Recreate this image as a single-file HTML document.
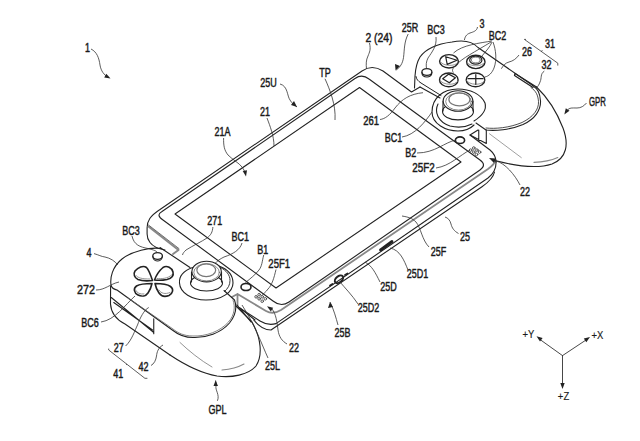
<!DOCTYPE html>
<html><head><meta charset="utf-8"><style>
html,body{margin:0;padding:0;background:#fff;}
svg{display:block;}
text{font-family:"Liberation Sans",sans-serif;font-size:12px;fill:#1a1a1a;stroke:#1a1a1a;stroke-width:0.45px;}
</style></head><body>
<svg width="640" height="441" viewBox="0 0 640 441">
<rect width="640" height="441" fill="#fff"/>
<g fill="none" stroke="#222" stroke-width="1.1" stroke-linejoin="round" stroke-linecap="round">
<!-- SCREEN -->
<path d="M359.5,87.5 L461,162 L276,288 L175,214 Z"/>
<!-- BODY outer top-left edge + apex -->
<path d="M165,250 C159,249 153,246.5 150,242.5 C148,240 147.1,237 147.1,234 L147.1,228 C147.1,221 150,216 160,209.5 L362,71 Q372,64 383,71 L411.5,92 L420,87"/>
<!-- top face outline P2 -->
<path d="M163,220 Q155.5,215 162,211.5 L355,78.5 Q362,73.5 369,79 L480,160 Q487,165 480,170 L289,302 Q281,307.5 273,301 Z"/>
<!-- front gray bevel -->
<path d="M232,297 L237.5,294 L237.5,306 M237.5,294 L266,311 Q273,315 281,310 L488,169 Q496,163 495,160" stroke="#888" stroke-width="1.8"/>
<!-- left corner lower-left lines -->
<path d="M148.5,226.5 L178.5,250 L173,254" stroke="#888" stroke-width="2"/>
<path d="M148.5,225 L179,248.6" stroke="#333" stroke-width="0.7"/>
<!-- front side lines -->
<path d="M238.75,307.5 L260,321 Q268,326 276,323.6 L488,178 Q497,171 496,160"/>
<path d="M253.75,320 Q262,330 271,330 L482,186.8 Q493,179 494.5,172"/>
<!-- right corner outer -->
<path d="M470,135 L490,150 Q496,155 496,162"/>
<!-- right controller base notch -->
<path d="M470,135 L478,130 M478.75,130 L478.75,141 M486.3,129.8 L486.3,143.5 M470,135 L486.3,143.5"/>
<!-- RIGHT CONTROLLER top surface -->
<path d="M414.5,88 L415,76 C415.5,68 417,62 420,57 C425,50 436,44 452,42 C462,40 472,41 478,47.5 L532,85 C538,89 540,93 540.5,101 C541,110 535,119 523,124.5 C510,130 495,131 486,130 L476,123"/>
<path d="M531,87.5 C536,91 538,95 538.5,101.5 C539,109 533.5,117 522,122.5 C509,128 495,129 486,128" stroke-width="0.8"/>
<path d="M416,76.5 C416.5,79.5 418,81 421,83 L441,95.5" stroke-width="1"/>
<path d="M420,87 L440,98"/>
<!-- slot 32 -->
<path d="M515,73.5 L536.5,87 M514.5,75.5 L533,87.5 M515,73.5 L514.5,75.5" stroke-width="1.2"/>
<!-- GPR shell -->
<path d="M536.5,87 C546,96 556,110 563,128 C569,144 567,158 552,164 C540,168 520,167 497,161"/>
<path d="M534,162.4 Q548,162 557.8,157.6" stroke="#888"/>
<path d="M489.5,133.8 L521.3,157.6" stroke="#888" stroke-width="0.8"/>
<!-- buttons right -->
<g stroke-width="1.4">
<ellipse cx="449" cy="61.3" rx="9.4" ry="6.7"/>
<ellipse cx="475.8" cy="61.9" rx="9.2" ry="6.7"/>
<ellipse cx="448.8" cy="79.9" rx="9.3" ry="6.9"/>
<ellipse cx="475.5" cy="79.9" rx="9.3" ry="6.9"/>
</g>
<g stroke="#777" stroke-width="0.8">
<path d="M440.5,62 C443,66 455,67 458,62.5 M467,62.5 C470,67 482,67 484.5,62.5 M440,80.5 C443,85 455,86 458,81 M466.5,80.5 C469,85 481,86 484.5,81"/>
</g>
<path d="M445.7,56.7 L457,60.3 L447.2,64.4 Z" stroke-width="1.2"/>
<ellipse cx="475.8" cy="60.2" rx="6.1" ry="4" stroke-width="1.2"/>
<ellipse cx="475.8" cy="60" rx="4.4" ry="2.8" stroke="#666" stroke-width="0.8"/>
<path d="M442.7,78.7 L448.8,74.1 L455.4,77.7 L449.3,82.8 Z" stroke-width="1.2"/>
<path d="M475.8,74.6 L475.8,84.3 M468,78.7 L483,78.7" stroke-width="1.2"/>
<ellipse cx="426.9" cy="72" rx="5" ry="3.4" stroke-width="1.3"/>
<path d="M421.9,72.5 C422,76 425,77 427,77 C429,77 432,76 431.9,72.5"/>
<!-- right joystick -->
<path d="M474,121 C482,116 487,110 485,103 C481,94 470,89 458,89 C443,89 432,98 432,112 C432,124 446,131 458,131 C464,131 470,129 474,125"/>
<path d="M438,104 C434,112 438,122 450,126 C458,128 466,127 472,124"/>
<ellipse cx="458" cy="111.5" rx="15.5" ry="8.4"/>
<path d="M443,101 L443,111 M473,101 L473,111"/>
<ellipse cx="458" cy="101" rx="14.8" ry="10.2" fill="#fff"/>
<ellipse cx="458.5" cy="101.5" rx="12.8" ry="8.6" stroke="#555" stroke-width="0.7"/>
<ellipse cx="459.4" cy="99.4" rx="10.5" ry="6.5" stroke="#777" stroke-width="1.2"/>
<!-- B2 button + grille -->
<ellipse cx="460" cy="140.2" rx="4.6" ry="3.3" stroke-width="1.6"/>
<g stroke-width="0.9" stroke="#444"><circle cx="473.8" cy="148" r="1.3"/><circle cx="476.9" cy="150.1" r="1.3"/><circle cx="479.6" cy="152.1" r="1.3"/><circle cx="470.7" cy="150.1" r="1.3"/><circle cx="473.8" cy="152.1" r="1.3"/><circle cx="476.5" cy="154.5" r="1.3"/></g>
<!-- LEFT CONTROLLER top surface -->
<path d="M161,248.5 C150,247 132,251 122,259 C112,267 110,278 111,285 C112,289 114,289 117,290 L173,330.5 C178,334.5 184,337.5 193,337.5 C206,338 221,333 229.5,323 C236,315 237,307 234.5,300 L224,290.5"/>
<path d="M128,298 L173,329 C178,333 184,336 193,336 C206,336.5 220,331.5 228.5,322 C234.5,315 235.5,307 233,300" stroke="#666" stroke-width="0.8"/>
<path d="M160,247.5 L190,267.5"/>
<!-- left controller side -->
<path d="M110.6,286 L110.5,304 C111,312 115,319 125,324 L170,355"/>
<path d="M111.25,297.5 L153.75,332.5 M113.75,302.5 L152.5,330 M153.75,318.75 L153.75,333.75"/>
<!-- GPL shell -->
<path d="M170,355 C185,365 200,373 217,376 C232,378 248,375 256,366 C263,355 261,338 252,322 L236,306"/>
<path d="M180,342.5 C189,351 200,360 212,367" stroke="#888" stroke-width="0.9"/>
<path d="M222,370 Q235,369 244,364" stroke="#888"/>
<path d="M237,305 L251,322 M240,308 L255,320"/>
<!-- d-pad -->
<g>
<g stroke-width="1.6">
<path d="M152.5,280.5 C151,276 149,270 146.5,267.5 C143,265 138,267.5 135,271 C133,274 134.5,278 138,279.5 C142,281 148,281 152.5,280.5 Z"/>
<path d="M154.5,280 C156,276 160,270 163,267.5 C167,265 172,268 173,272 C174,276 171,278.5 167,279.5 C162,280.5 158,280.5 154.5,280 Z"/>
<path d="M152,283.5 C147,283.5 140,284 136.5,286 C133,288.5 134,293 138,295 C142,297 146,296 148,293 C150,290 151.5,286 152,283.5 Z"/>
<path d="M155,283.5 C160,283.5 167,284 170.5,286.5 C174,289 173,293.5 169,295.5 C165,297 161,296 159,293 C157,290 155.5,286 155,283.5 Z"/>
</g>
<path d="M136,275.5 C138,278 142,279 150,279 M157,278.5 C162,279 168,278.5 171.5,275 M135.5,290 C137,293 140,294.5 144,294 M159,290 C161,293.5 165,294.5 170,292.5" stroke="#777" stroke-width="0.8"/>
</g>
<ellipse cx="157.6" cy="256" rx="4.8" ry="3.4" stroke-width="1.3"/>
<path d="M152.8,256.5 C153,260 156,261 157.6,261 C159,261 162,260 162.4,256.5"/>
<!-- left joystick -->
<path d="M192.5,267.5 C183,271 179,277 179.5,283 C180,293 192,300 206,300 C222,300 233,292 233,283 C233,275 227,269 219,266"/>
<path d="M220.5,267.5 C226.5,270.5 230,275 230,280.5 C230,285 228,288.5 224.5,291.5" stroke-width="0.9"/>
<ellipse cx="206.5" cy="283" rx="16" ry="8"/>
<path d="M191.5,272 L191.5,282 M221.5,272 L221.5,282"/>
<ellipse cx="206.6" cy="271.6" rx="14.7" ry="10.3" fill="#fff"/>
<ellipse cx="206.6" cy="272.3" rx="12.8" ry="8.6" stroke="#555" stroke-width="0.7"/>
<ellipse cx="206.25" cy="270.3" rx="9.4" ry="6.4" stroke="#777" stroke-width="1.2"/>
<!-- B1 + grille -->
<ellipse cx="246" cy="287" rx="5" ry="3.5" stroke-width="1.6"/>
<g stroke-width="0.9" stroke="#444"><circle cx="259.1" cy="294.7" r="1.3"/><circle cx="262.2" cy="296.8" r="1.3"/><circle cx="265.3" cy="298.8" r="1.3"/><circle cx="256.1" cy="296.8" r="1.3"/><circle cx="259.1" cy="298.8" r="1.3"/><circle cx="262.2" cy="301.2" r="1.3"/></g>
<!-- front slots -->
<path d="M380.5,250 L392,241.5" stroke-width="2.8"/>
<ellipse cx="339" cy="279.3" rx="4.8" ry="3" transform="rotate(-40 339 279.3)" stroke-width="2"/>
<path d="M330,285.5 L332.5,284 M345,275 L347.5,273.5" stroke-width="1.8"/>
<!-- AXES -->
<path d="M562.5,355.6 L540,339.5 M562.5,355.6 L586,340 M562.5,355.6 L562.5,384" stroke="#333" stroke-width="0.9"/>
</g>
<g fill="#222">
<path d="M536.5,336.3 L542.6,338.1 L540.0,341.6 Z"/>
<path d="M590.0,337.0 L586.3,342.2 L583.8,338.5 Z"/>
<path d="M562.5,389.0 L560.3,383.0 L564.7,383.0 Z"/>
</g>
<!-- leaders -->
<g fill="none" stroke="#333" stroke-width="0.8">
<path d="M91,49 C97,52 99,58 100,65 C101,71 104,75 108,77"/>
<path d="M280,84 C288,86 287,96 290,100 C292,104 295,105 297,107"/>
<path d="M267,118 C270,126 274,136 274,146"/>
<path d="M223.6,138 C223.5,145 224,150 228,155 C233,160 239,163 242,167 C244,170 245,172 245.5,172"/>
<path d="M325,78.75 C330,90 336,105 335,120"/>
<path d="M369.5,43 C371,50 369.5,52 368,56 C366,60 366,64 366.5,69"/>
<path d="M408.2,34 C404,42 404.5,50 403.5,57.6 C402.5,64 400,67 396.5,70"/>
<path d="M436,37 C437,46 432,52 428,58 C426,62 426,65 426.5,68.5"/>
<path d="M477.5,27 C477,31 473,32 470,33 C466,34.5 465,37 464.4,40"/>
<path d="M492,41 C480,43 462,45 453.5,53 M491,42 C475,52 462,58 455,66 C452,69 452,71 453.5,72.5 M492,42 C490,47 486,51 482,56 M493,42 C496,50 497,60 494,68 C492,73 489,76 485,77"/>
<path d="M526,39.4 L524.4,39.4 L557.8,63.2 L557.8,65.6 M541,51.5 L542.5,50.5"/>
<path d="M519,55 C516,59 513,61 509,62 C505,63 503,66 501.4,68.7"/>
<path d="M544.3,71.1 C540,74 542,78 540,82 C539,85 538,86 536.5,88"/>
<path d="M586.5,103 C584,106 581,108 577,108 C572,108 569.5,107.5 567.5,110"/>
<path d="M380,119.5 C385,119 390,115 395,108 C402,99 410,94 423,92.7"/>
<path d="M402,137 C415,135 425,122 432,112"/>
<path d="M417,153 C435,153 445,142 456,140"/>
<path d="M436,168 C450,166 460,155 470,150"/>
<path d="M520,185 C515,175 505,163 496,161"/>
<path d="M132,236 C134,245 140,247 148,248.5 C154,250 157,251 157.5,253"/>
<path d="M212.9,227 C212.5,232 211,235 207,238 C201,242 194,245 186,250 C184,252 183,253 182.5,255"/>
<path d="M242,243 C240,250 233,254 224,257 C220,259 217,261 215.5,263"/>
<path d="M94,253.6 C99,255 101,256.5 105,257 C110,258 115,261 117.8,265"/>
<path d="M263.7,255 C262,262 262,266 259,270 C256,274 250,279 245.5,282.5"/>
<path d="M276,269.5 C274,278 272,285 268,289 C266,292 263,294 261.6,295.7"/>
<path d="M96,290 C105,290 110,284 119,282"/>
<path d="M101,322 C115,320 125,305 135,296"/>
<path d="M125.6,346 C132,340 135,330 137.5,325 C140,318 144,310 148.75,307.5"/>
<path d="M287,344 C282,341 279,337 278,330 C277,322 276,314 272,309"/>
<path d="M151,365.5 C154,364 156,360 156.5,356 C157,352 158,348 163,345"/>
<path d="M108.7,348.6 L108.7,350 L144.9,378.3 L147.4,378.3 M126,364.8 L127,364"/>
<path d="M268,358 C262,345 255,325 242,305"/>
<path d="M217.4,400.8 C220,395 215,390 216,386 C217,383 215.6,382 215.6,380.4"/>
<path d="M458.5,233.5 C454,231 452,228 451,224 C450,220 448,218 445,217"/>
<path d="M429,247 C422,240 421,228 416,222 C412,218 408,217 402,216"/>
<path d="M408,270 C404,260 400,250 390,248"/>
<path d="M380,282 C375,272 372,266 365,262"/>
<path d="M358,304 C352,295 345,288 340,282"/>
<path d="M338,325 C336,318 334,310 330,302"/>
</g>
<g fill="#222">
<path d="M110.5,78.5 L104.2,77.6 L106.3,73.7 Z"/>
<path d="M297,107 L291,105 L294,101 Z"/>
<path d="M246.0,176.5 L242.7,171.0 L247.0,170.2 Z"/>
<path d="M395.6,70.6 L395,64 L400,66 Z"/>
<path d="M564.3,114.5 L565.8,108.3 L569.5,110.7 Z"/>
<path d="M489,158 L496,158.5 L494,163 Z"/>
<path d="M267.0,306.3 L273.2,307.7 L270.8,311.4 Z"/>
<path d="M215.6,380.4 L213.5,386 L218,386 Z"/>
<path d="M330,302 L328,308 L333,307 Z"/>
</g>
<!-- LABELS -->
<g>
<text transform="translate(87.5,52) scale(.75,1)" text-anchor="middle">1</text>
<text transform="translate(268.5,87) scale(.75,1)" text-anchor="middle">25U</text>
<text transform="translate(265,115.5) scale(.75,1)" text-anchor="middle">21</text>
<text transform="translate(222.5,136) scale(.75,1)" text-anchor="middle">21A</text>
<text transform="translate(325,77) scale(.75,1)" text-anchor="middle">TP</text>
<text transform="translate(378.9,41.7) scale(.75,1)" text-anchor="middle" textLength="36" lengthAdjust="spacingAndGlyphs">2 (24)</text>
<text transform="translate(410,32) scale(.75,1)" text-anchor="middle">25R</text>
<text transform="translate(436,33.5) scale(.75,1)" text-anchor="middle">BC3</text>
<text transform="translate(482,28) scale(.75,1)" text-anchor="middle">3</text>
<text transform="translate(497.5,39.5) scale(.75,1)" text-anchor="middle">BC2</text>
<text transform="translate(550,48) scale(.75,1)" text-anchor="middle">31</text>
<text transform="translate(527,56) scale(.75,1)" text-anchor="middle">26</text>
<text transform="translate(546.6,69) scale(.75,1)" text-anchor="middle">32</text>
<text transform="translate(597.4,106.3) scale(.75,1)" text-anchor="middle" textLength="22.5" lengthAdjust="spacingAndGlyphs">GPR</text>
<text transform="translate(371,124.5) scale(.75,1)" text-anchor="middle" textLength="21" lengthAdjust="spacingAndGlyphs">261</text>
<text transform="translate(393.5,141.8) scale(.75,1)" text-anchor="middle">BC1</text>
<text transform="translate(410.8,157.4) scale(.75,1)" text-anchor="middle">B2</text>
<text transform="translate(423.6,171.7) scale(.75,1)" text-anchor="middle" textLength="30" lengthAdjust="spacingAndGlyphs">25F2</text>
<text transform="translate(525,196) scale(.75,1)" text-anchor="middle">22</text>
<text transform="translate(131,234.5) scale(.75,1)" text-anchor="middle">BC3</text>
<text transform="translate(214.7,225) scale(.75,1)" text-anchor="middle">271</text>
<text transform="translate(240.2,240.8) scale(.75,1)" text-anchor="middle">BC1</text>
<text transform="translate(89,257) scale(.75,1)" text-anchor="middle">4</text>
<text transform="translate(262.7,253.7) scale(.75,1)" text-anchor="middle">B1</text>
<text transform="translate(279.2,267.9) scale(.75,1)" text-anchor="middle" textLength="29" lengthAdjust="spacingAndGlyphs">25F1</text>
<text transform="translate(86,294.4) scale(.75,1)" text-anchor="middle" textLength="24" lengthAdjust="spacingAndGlyphs">272</text>
<text transform="translate(90,327) scale(.75,1)" text-anchor="middle">BC6</text>
<text transform="translate(118.7,352) scale(.75,1)" text-anchor="middle">27</text>
<text transform="translate(294,352) scale(.75,1)" text-anchor="middle">22</text>
<text transform="translate(143.5,370.5) scale(.75,1)" text-anchor="middle">42</text>
<text transform="translate(118.3,378) scale(.75,1)" text-anchor="middle">41</text>
<text transform="translate(272.5,369.5) scale(.75,1)" text-anchor="middle">25L</text>
<text transform="translate(217.5,413.7) scale(.75,1)" text-anchor="middle">GPL</text>
<text transform="translate(465,240.5) scale(.75,1)" text-anchor="middle">25</text>
<text transform="translate(438.5,255.5) scale(.75,1)" text-anchor="middle">25F</text>
<text transform="translate(417.5,278) scale(.75,1)" text-anchor="middle">25D1</text>
<text transform="translate(388.5,291) scale(.75,1)" text-anchor="middle">25D</text>
<text transform="translate(368.5,312) scale(.75,1)" text-anchor="middle">25D2</text>
<text transform="translate(342.5,337) scale(.75,1)" text-anchor="middle">25B</text>
<text transform="translate(528.5,338.2) scale(.9,1)" text-anchor="middle" style="font-size:10.5px;stroke-width:0.15px">+Y</text>
<text transform="translate(597.5,338.6) scale(.9,1)" text-anchor="middle" style="font-size:10.5px;stroke-width:0.15px">+X</text>
<text transform="translate(563.5,400) scale(.9,1)" text-anchor="middle" style="font-size:10.5px;stroke-width:0.15px">+Z</text>
</g>
</svg>
</body></html>
